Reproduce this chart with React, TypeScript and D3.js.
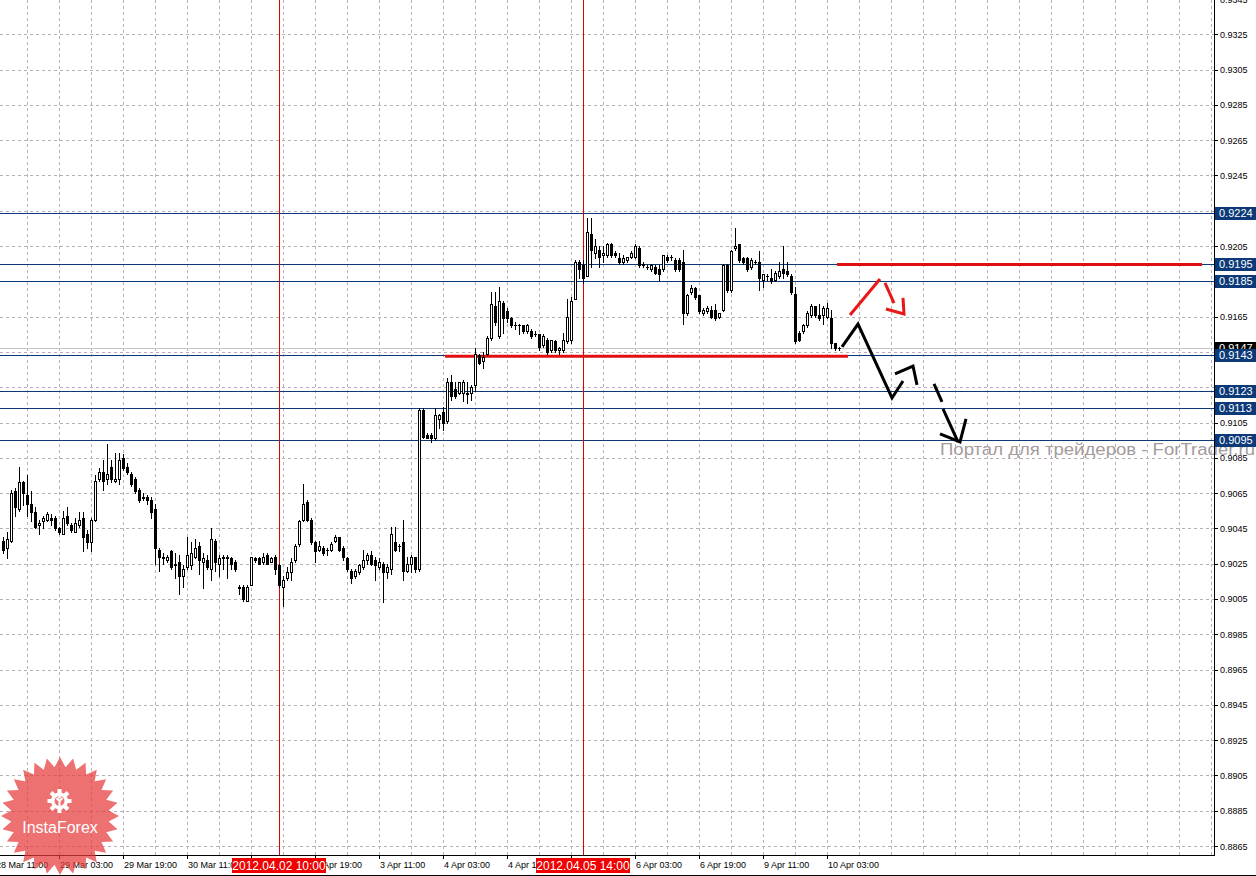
import * as d3 from "d3";

const WIDTH = 1256;
const HEIGHT = 876;
const PLOT_RIGHT = 1214;
const PLOT_BOTTOM = 855;

// H1 bars, bar 0 = 28 Mar 11:00, first visible bar is 2
const FIRST_BAR = 2;

const opens = [
  0.9038, 0.9034, 0.9038, 0.9066, 0.9056, 0.9071, 0.9064, 0.9059, 0.9054, 0.9047,
  0.9049, 0.905, 0.9051, 0.9051, 0.9045, 0.9042, 0.9052, 0.9047, 0.9043, 0.9047,
  0.9051, 0.9042, 0.9037, 0.905, 0.9073, 0.9077, 0.9073, 0.908, 0.9072, 0.9073,
  0.9085, 0.908, 0.9076, 0.9073, 0.9067, 0.9063, 0.9063, 0.9061, 0.9056, 0.9033,
  0.9029, 0.9027, 0.9032, 0.9025, 0.9026, 0.9018, 0.9023, 0.9024, 0.9029, 0.9035,
  0.9026, 0.9027, 0.9022, 0.9038, 0.9025, 0.9028, 0.9029, 0.9028, 0.9026, 0.9012,
  0.9012, 0.9004, 0.9013, 0.9028, 0.9028, 0.9026, 0.903, 0.9026, 0.9029, 0.9024,
  0.9012, 0.9017, 0.902, 0.9027, 0.9036, 0.905, 0.906, 0.905, 0.9037, 0.9033,
  0.9034, 0.9033, 0.9033, 0.9038, 0.904, 0.9034, 0.9028, 0.9021, 0.9018, 0.902,
  0.9023, 0.9027, 0.903, 0.9027, 0.9023, 0.9025, 0.902, 0.9022, 0.9037, 0.9035,
  0.9037, 0.9021, 0.9025, 0.9029, 0.9022, 0.9112, 0.9098, 0.9098, 0.9096, 0.9107,
  0.9111, 0.9106, 0.9128, 0.9124, 0.9122, 0.9122, 0.9122, 0.9122, 0.9126, 0.9143,
  0.914, 0.9144, 0.9153, 0.9171, 0.9154, 0.9173, 0.9168, 0.9164, 0.916, 0.916,
  0.916, 0.9157, 0.9157, 0.9155, 0.9155, 0.9149, 0.9152, 0.9146, 0.9151, 0.9146,
  0.9146, 0.9151, 0.9152, 0.9175, 0.9196, 0.9194, 0.9188, 0.9212, 0.9201, 0.9203,
  0.92, 0.92, 0.9206, 0.9201, 0.9198, 0.9196, 0.9197, 0.9199, 0.9199, 0.9204,
  0.9195, 0.9193, 0.9192, 0.9193, 0.9192, 0.9192, 0.9199, 0.9199, 0.9197, 0.9197,
  0.9196, 0.9167, 0.9179, 0.9181, 0.9177, 0.9167, 0.9168, 0.9169, 0.9169, 0.9165,
  0.9169, 0.9194, 0.918, 0.9204, 0.9206, 0.9198, 0.9198, 0.9193, 0.9196, 0.9196,
  0.9186, 0.9188, 0.9187, 0.9186, 0.9188, 0.9192, 0.9191, 0.9188, 0.9178, 0.9156,
  0.9157, 0.916, 0.9166, 0.9171, 0.9166, 0.9166, 0.9165, 0.9164, 0.915, 0.91475,
];

const highs = [
  0.904, 0.9043, 0.9067, 0.9068, 0.908, 0.9072, 0.9075, 0.9066, 0.9057, 0.905,
  0.9052, 0.9054, 0.9053, 0.9052, 0.9046, 0.9055, 0.9057, 0.9048, 0.9051, 0.9054,
  0.9054, 0.9044, 0.9051, 0.9075, 0.9079, 0.9084, 0.9093, 0.9084, 0.9088, 0.9088,
  0.9087, 0.9082, 0.9077, 0.9074, 0.9068, 0.9065, 0.9064, 0.9063, 0.9059, 0.9034,
  0.9031, 0.903, 0.9033, 0.9031, 0.903, 0.9024, 0.904, 0.9037, 0.9039, 0.9037,
  0.9031, 0.903, 0.9045, 0.9039, 0.903, 0.903, 0.903, 0.9029, 0.9027, 0.9013,
  0.9013, 0.9013, 0.9029, 0.9029, 0.9029, 0.9031, 0.9031, 0.9029, 0.903, 0.9025,
  0.9018, 0.9023, 0.9028, 0.9036, 0.905, 0.907, 0.9061, 0.9051, 0.9038, 0.9038,
  0.9035, 0.9034, 0.9037, 0.9041, 0.904, 0.9035, 0.9029, 0.9022, 0.9022, 0.9025,
  0.9033, 0.9031, 0.9032, 0.9029, 0.9028, 0.9026, 0.9025, 0.9046, 0.9046, 0.9036,
  0.905, 0.9029, 0.903, 0.9029, 0.9113, 0.9113, 0.9099, 0.9099, 0.9113, 0.911,
  0.9114, 0.913, 0.9132, 0.9128, 0.9128, 0.9129, 0.9128, 0.9126, 0.9147, 0.9144,
  0.9145, 0.9154, 0.9179, 0.9179, 0.9182, 0.9174, 0.917, 0.9165, 0.9162, 0.9161,
  0.916, 0.9161, 0.9158, 0.9157, 0.9155, 0.9155, 0.9153, 0.9152, 0.9152, 0.9148,
  0.9156, 0.9175, 0.9176, 0.9197, 0.9197, 0.9197, 0.9221, 0.9221, 0.9209, 0.9205,
  0.9205, 0.9207, 0.9207, 0.9202, 0.9201, 0.92, 0.9199, 0.9202, 0.9206, 0.9205,
  0.9196, 0.9194, 0.9195, 0.9194, 0.9194, 0.92, 0.92, 0.92, 0.9198, 0.9198,
  0.9203, 0.9178, 0.9183, 0.9182, 0.9177, 0.917, 0.9171, 0.9171, 0.9172, 0.9167,
  0.9195, 0.9195, 0.9203, 0.9215, 0.9206, 0.9199, 0.9199, 0.9198, 0.9197, 0.9202,
  0.9189, 0.9189, 0.9192, 0.9191, 0.9196, 0.9205, 0.9196, 0.9189, 0.9182, 0.9157,
  0.9161, 0.9168, 0.9172, 0.9171, 0.9172, 0.9171, 0.9173, 0.9169, 0.915, 0.9148,
];

const lows = [
  0.9031, 0.9028, 0.9037, 0.9052, 0.9055, 0.9058, 0.9052, 0.9049, 0.9045, 0.9042,
  0.9045, 0.9049, 0.9047, 0.9044, 0.9042, 0.9042, 0.9047, 0.9043, 0.9043, 0.9046,
  0.9032, 0.9034, 0.9032, 0.9049, 0.9072, 0.9067, 0.907, 0.9071, 0.9071, 0.907,
  0.9078, 0.9076, 0.9069, 0.9065, 0.906, 0.9061, 0.9059, 0.9051, 0.9025, 0.9021,
  0.9025, 0.9026, 0.9022, 0.9017, 0.9008, 0.9012, 0.9022, 0.9022, 0.9028, 0.9019,
  0.9011, 0.9022, 0.9016, 0.9021, 0.9018, 0.9022, 0.9017, 0.9022, 0.9021, 0.9008,
  0.9004, 0.9004, 0.9013, 0.9026, 0.9025, 0.9025, 0.9025, 0.9026, 0.9019, 0.9012,
  0.9001, 0.9016, 0.9016, 0.9026, 0.9035, 0.9049, 0.9049, 0.9036, 0.9026, 0.9032,
  0.903, 0.903, 0.9032, 0.9037, 0.9032, 0.9027, 0.9021, 0.9014, 0.9017, 0.9019,
  0.9022, 0.9025, 0.9024, 0.9016, 0.9022, 0.9003, 0.9017, 0.9019, 0.9032, 0.9032,
  0.9016, 0.902, 0.902, 0.902, 0.9021, 0.9096, 0.9096, 0.9094, 0.9095, 0.9102,
  0.9101, 0.9105, 0.9118, 0.9119, 0.9121, 0.9117, 0.9116, 0.9118, 0.9123, 0.9138,
  0.9136, 0.9143, 0.9152, 0.916, 0.9153, 0.9156, 0.9162, 0.9159, 0.9158, 0.9155,
  0.9156, 0.9156, 0.9153, 0.9154, 0.9146, 0.9148, 0.9144, 0.9145, 0.9145, 0.9144,
  0.9145, 0.915, 0.915, 0.9175, 0.9187, 0.9184, 0.9188, 0.9193, 0.9198, 0.9193,
  0.9196, 0.9199, 0.9199, 0.9199, 0.9195, 0.9195, 0.9196, 0.9198, 0.9198, 0.9193,
  0.9193, 0.9192, 0.9191, 0.9189, 0.9186, 0.9191, 0.9196, 0.9197, 0.9191, 0.9191,
  0.9161, 0.9166, 0.9178, 0.9175, 0.9167, 0.9166, 0.9167, 0.9164, 0.9163, 0.9164,
  0.9168, 0.9179, 0.9179, 0.9203, 0.9196, 0.9195, 0.9191, 0.9192, 0.9195, 0.918,
  0.9182, 0.9186, 0.9184, 0.9185, 0.9187, 0.9187, 0.9188, 0.9178, 0.915, 0.9151,
  0.9156, 0.9159, 0.9165, 0.9165, 0.9163, 0.9161, 0.9164, 0.9147, 0.9146, 0.9146,
];

const closes = [
  0.9033, 0.9039, 0.9065, 0.9057, 0.9071, 0.9065, 0.9059, 0.9054, 0.9046, 0.9048,
  0.9051, 0.9053, 0.905, 0.9045, 0.9043, 0.9051, 0.9048, 0.9044, 0.9048, 0.905,
  0.904, 0.9037, 0.905, 0.9072, 0.9077, 0.9072, 0.9076, 0.9073, 0.9073, 0.9084,
  0.9079, 0.9077, 0.907, 0.9066, 0.9061, 0.9062, 0.9061, 0.9054, 0.9034, 0.9029,
  0.9028, 0.9029, 0.9023, 0.9024, 0.9018, 0.9022, 0.903, 0.9031, 0.9034, 0.9027,
  0.9028, 0.9023, 0.9039, 0.9026, 0.9028, 0.9029, 0.9028, 0.9025, 0.9022, 0.9011,
  0.9005, 0.9012, 0.9029, 0.9027, 0.9025, 0.9029, 0.9025, 0.9028, 0.9022, 0.9013,
  0.9016, 0.902, 0.9026, 0.9035, 0.9049, 0.9059, 0.905, 0.9037, 0.9032, 0.9035,
  0.9031, 0.9033, 0.9036, 0.904, 0.9033, 0.9029, 0.9022, 0.9017, 0.9021, 0.9024,
  0.9027, 0.903, 0.9025, 0.9024, 0.9026, 0.902, 0.9023, 0.9042, 0.9033, 0.9035,
  0.9021, 0.9025, 0.9029, 0.9022, 0.9112, 0.9097, 0.9096, 0.9096, 0.9109, 0.9109,
  0.9105, 0.9128, 0.912, 0.912, 0.9128, 0.9128, 0.9121, 0.9125, 0.9144, 0.9139,
  0.9142, 0.9153, 0.9172, 0.9162, 0.9174, 0.9164, 0.9164, 0.916, 0.916, 0.916,
  0.9157, 0.916, 0.9154, 0.9155, 0.9148, 0.9154, 0.9145, 0.9152, 0.9146, 0.9147,
  0.9152, 0.9165, 0.9174, 0.9196, 0.9192, 0.9187, 0.9213, 0.9203, 0.9205, 0.9199,
  0.9201, 0.9206, 0.92, 0.92, 0.9196, 0.9198, 0.9199, 0.9201, 0.9205, 0.9194,
  0.9194, 0.9193, 0.9194, 0.919, 0.9189, 0.92, 0.9197, 0.9199, 0.9192, 0.9192,
  0.9167, 0.9177, 0.9181, 0.9176, 0.9168, 0.9169, 0.917, 0.9165, 0.9164, 0.9167,
  0.9194, 0.918, 0.9202, 0.9205, 0.9197, 0.9196, 0.9192, 0.9197, 0.9196, 0.9187,
  0.9189, 0.9188, 0.9185, 0.919, 0.9191, 0.919, 0.9189, 0.9179, 0.9151, 0.9152,
  0.916, 0.9167, 0.9171, 0.9166, 0.9164, 0.917, 0.917, 0.915, 0.9147, 0.9147,
];

// time axis: a label every 16 bars starting at bar 0
const LABEL_EVERY = 16;
const timeLabels = [
  "28 Mar 11:00", "29 Mar 03:00", "29 Mar 19:00", "30 Mar 11:00", "2 Apr 03:00",
  "2 Apr 19:00", "3 Apr 11:00", "4 Apr 03:00", "4 Apr 19:00", "5 Apr 11:00",
  "6 Apr 03:00", "6 Apr 19:00", "9 Apr 11:00", "10 Apr 03:00",
];

const priceTicks = [
  0.9345, 0.9325, 0.9305, 0.9285, 0.9265, 0.9245, 0.9225, 0.9205, 0.9185,
  0.9165, 0.9145, 0.9125, 0.9105, 0.9085, 0.9065, 0.9045, 0.9025, 0.9005,
  0.8985, 0.8965, 0.8945, 0.8925, 0.8905, 0.8885, 0.8865,
];

const levels = [0.9224, 0.9195, 0.9185, 0.9143, 0.9123, 0.9113, 0.9095];
const bidPrice = 0.9147;

const markerBars = [71, 147];
const markerTexts = ["2012.04.02 10:00", "2012.04.05 14:00"];

// thick red levels: price, from bar, to bar
const redPrices = [0.91945, 0.91425];
const redFrom = [210.5, 112.5];
const redTo = [301.75, 213.25];

// forecast strokes as [bar, price]
const redStrokes = [
  [[213.75, 0.91659], [221.25, 0.91863]],
  [[222.5, 0.91841], [224.75, 0.91727]],
  [[222.75, 0.91693], [227.25, 0.91665], [227, 0.91756]],
];
const blackStrokes = [
  [[211.75, 0.91478], [215.75, 0.91608], [224.25, 0.91189], [227, 0.91285]],
  [[225, 0.91325], [229.5, 0.9137], [230.5, 0.91263]],
  [[234.75, 0.91269], [236.75, 0.91167]],
  [[237, 0.91127], [240.75, 0.9094]],
  [[236.25, 0.90985], [241.25, 0.9094], [242.75, 0.9107]],
];

const FONT = "'Liberation Sans', Arial, sans-serif";
const NAVY = "#0c3a78";

const Logo = () => {
  const cx = 60;
  const cy = 816;
  const spikes = 28;
  const star = d3.range(spikes * 2).map((k) => {
    const a = (k * Math.PI) / spikes;
    const r = k % 2 === 0 ? 59 : 49;
    return [cx + r * Math.sin(a), cy - r * Math.cos(a)] as [number, number];
  });
  const gx = 59.5;
  const gy = 801;
  return (
    <g>
      <path d={d3.line()(star) + "Z"} fill="#e83a3a" opacity={0.72} />
      <g fill="#fff">
        {d3.range(8).map((k) => (
          <rect
            key={k}
            x={gx - 2}
            y={gy - 12}
            width={4}
            height={6}
            transform={`rotate(${k * 45},${gx},${gy})`}
          />
        ))}
        <circle cx={gx} cy={gy} r={8.5} />
      </g>
      <circle cx={gx} cy={gy} r={5} fill="#ee7070" />
      <path
        d={`M${gx - 3},${gy - 3} L${gx},${gy} L${gx + 3},${gy - 3} M${gx},${gy} L${gx},${gy + 8}`}
        stroke="#fff"
        strokeWidth={2}
        fill="none"
      />
      <circle cx={gx} cy={gy - 4} r={1.5} fill="#fff" />
      <text x={cx} y={833} textAnchor="middle" fontSize={16} fill="#fff" fontFamily={FONT}>
        InstaForex
      </text>
    </g>
  );
};

export default function App() {
  const x = d3.scaleLinear().domain([0, 304]).range([-5, 1211]);
  const y = d3.scaleLinear().domain([0.8865, 0.9325]).range([846, 34.3]);
  const line = d3
    .line<number[]>()
    .x((d) => x(d[0]))
    .y((d) => y(d[1]));

  const gridBars = d3.range(8, 305, 8);
  const snap = (v: number) => Math.round(v) + 0.5;

  const candles = opens.map((o, k) => {
    const i = FIRST_BAR + k;
    const cx = Math.round(x(i));
    const c = closes[k];
    const top = Math.round(y(Math.max(o, c)));
    const bot = Math.round(y(Math.min(o, c)));
    const hy = Math.round(y(highs[k]));
    const ly = Math.round(y(lows[k]));
    const up = c >= o;
    return (
      <g key={i}>
        <line x1={cx + 0.5} x2={cx + 0.5} y1={hy} y2={ly + 1} stroke="#000" />
        {bot - top < 1 ? (
          <line x1={cx - 1} x2={cx + 2} y1={top + 0.5} y2={top + 0.5} stroke="#000" />
        ) : (
          <rect
            x={cx - 0.5}
            y={top + 0.5}
            width={2}
            height={bot - top}
            fill={up ? "#fff" : "#000"}
            stroke="#000"
          />
        )}
      </g>
    );
  });

  return (
    <svg
      width={WIDTH}
      height={HEIGHT}
      style={{ position: "absolute", left: 0, top: 0, background: "#fff" }}
      fontFamily={FONT}
    >
      <rect width={WIDTH} height={HEIGHT} fill="#fff" />

      {/* grid */}
      <g stroke="#b8aeb8" strokeDasharray="3,3" shapeRendering="crispEdges">
        {priceTicks.map((p) => (
          <line key={p} x1={0} x2={PLOT_RIGHT} y1={snap(y(p))} y2={snap(y(p))} />
        ))}
        {gridBars.map((b) => (
          <line key={b} x1={snap(x(b))} x2={snap(x(b))} y1={0} y2={PLOT_BOTTOM} />
        ))}
      </g>

      {/* watermark */}
      <text
        x={940}
        y={455}
        fontSize={16}
        fill="#a49c9c"
        textLength={315}
        lengthAdjust="spacingAndGlyphs"
      >
        Портал для трейдеров - ForTrader.ru
      </text>

      {/* bid line and horizontal levels */}
      <g shapeRendering="crispEdges">
        <line x1={0} x2={PLOT_RIGHT} y1={snap(y(bidPrice))} y2={snap(y(bidPrice))} stroke="#c4c4c4" />
        {levels.map((p) => (
          <line key={p} x1={0} x2={PLOT_RIGHT} y1={snap(y(p))} y2={snap(y(p))} stroke={NAVY} />
        ))}
        {markerBars.map((b) => (
          <line key={b} x1={snap(x(b))} x2={snap(x(b))} y1={0} y2={PLOT_BOTTOM} stroke="#e00000" />
        ))}
      </g>

      {/* red levels */}
      {redPrices.map((p, k) => (
        <line
          key={k}
          x1={x(redFrom[k])}
          x2={x(redTo[k])}
          y1={y(p)}
          y2={y(p)}
          stroke="#e01010"
          strokeWidth={3}
        />
      ))}

      {/* candles */}
      <g shapeRendering="crispEdges">{candles}</g>

      {/* forecast arrows */}
      <g fill="none" strokeWidth={3} strokeLinecap="butt" strokeLinejoin="miter">
        {redStrokes.map((s, k) => (
          <path key={k} d={line(s) || ""} stroke="#e81818" />
        ))}
        {blackStrokes.map((s, k) => (
          <path key={k} d={line(s) || ""} stroke="#000" />
        ))}
      </g>

      {/* axes */}
      <g shapeRendering="crispEdges" stroke="#000">
        <line x1={PLOT_RIGHT + 0.5} x2={PLOT_RIGHT + 0.5} y1={0} y2={PLOT_BOTTOM + 1} />
        <line x1={0} x2={PLOT_RIGHT + 1} y1={PLOT_BOTTOM + 0.5} y2={PLOT_BOTTOM + 0.5} />
        <line x1={0} x2={WIDTH} y1={875.5} y2={875.5} />
        {priceTicks.map((p) => (
          <line key={p} x1={PLOT_RIGHT} x2={PLOT_RIGHT + 4} y1={snap(y(p))} y2={snap(y(p))} />
        ))}
        {timeLabels.map((t, k) => (
          <line
            key={t}
            x1={snap(x(k * LABEL_EVERY))}
            x2={snap(x(k * LABEL_EVERY))}
            y1={PLOT_BOTTOM}
            y2={PLOT_BOTTOM + 4}
          />
        ))}
      </g>
      <g fontSize={9} fill="#000">
        {priceTicks.map((p) => (
          <text key={p} x={1220} y={y(p) + 3.5}>
            {p.toFixed(4)}
          </text>
        ))}
        {timeLabels.map((t, k) => (
          <text key={t} x={x(k * LABEL_EVERY) + 1} y={868}>
            {t}
          </text>
        ))}
      </g>

      {/* price boxes */}
      <g shapeRendering="crispEdges">
        <rect x={1215} y={Math.round(y(bidPrice)) - 6} width={41} height={13} fill="#000" />
        <text x={1219} y={y(bidPrice) + 4} fontSize={11} fill="#fff">
          {bidPrice.toFixed(4)}
        </text>
        {levels.map((p) => (
          <g key={p}>
            <rect x={1215} y={Math.round(y(p)) - 6} width={41} height={13} fill={NAVY} />
            <text x={1219} y={y(p) + 4} fontSize={11} fill="#fff">
              {p.toFixed(4)}
            </text>
          </g>
        ))}
      </g>

      {/* time markers */}
      {markerBars.map((b, k) => (
        <g key={b}>
          <rect x={Math.round(x(b)) - 47} y={858} width={94} height={15} fill="#f00000" />
          <text x={x(b)} y={870} textAnchor="middle" fontSize={12} fill="#fff">
            {markerTexts[k]}
          </text>
        </g>
      ))}

      <Logo />
    </svg>
  );
}
